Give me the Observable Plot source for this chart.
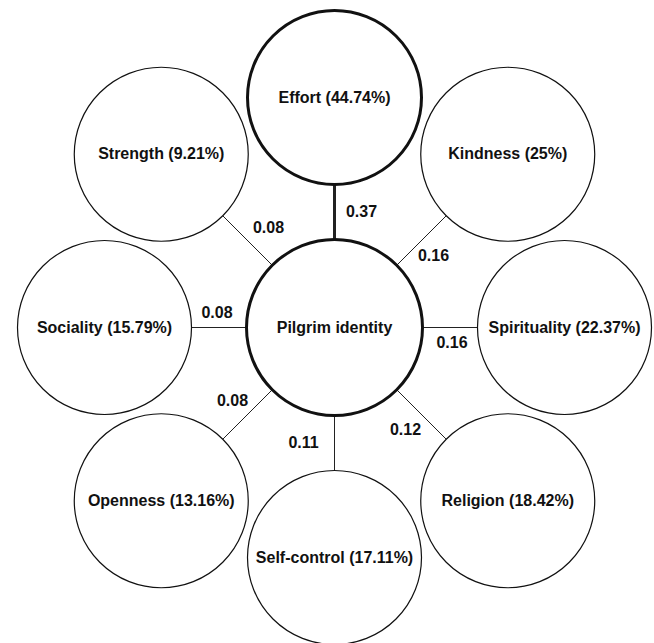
<!DOCTYPE html>
<html>
<head>
<meta charset="utf-8">
<script src="https://cdn.jsdelivr.net/npm/d3@7"></script>
<script src="https://cdn.jsdelivr.net/npm/@observablehq/plot@0.6"></script>
<style>
  html, body { margin: 0; padding: 0; background: #fff; }
  #chart { width: 654px; height: 643px; }
  svg text { font-family: "Liberation Sans", Arial, sans-serif; font-weight: bold; }
</style>
</head>
<body>
<div id="chart"></div>
<script>
// ---- data ----
const centerLabel = "Pilgrim identity";
const categories = ["Effort", "Kindness", "Spirituality", "Religion", "Self-control", "Openness", "Sociality", "Strength"];
const percents = [44.74, 25, 22.37, 18.42, 17.11, 13.16, 15.79, 9.21];
const weights = [0.37, 0.16, 0.16, 0.12, 0.11, 0.08, 0.08, 0.08];

// ---- layout (clockwise from top) ----
const orthDist = 230, diagDist = 245;
const centerR = 88, nodeR = 87;
// weight label offsets from link midpoint (px)
const labelOffsets = [[27, 0], [12, 15], [2, 15], [-16, 15], [-31, 0], [-15, -14], [-2, -15], [21, -13]];

const nodes = categories.map((c, i) => {
  const a = i * Math.PI / 4;
  const dist = i % 2 ? diagDist : orthDist;
  const ux = Math.sin(a), uy = -Math.cos(a);
  const mid = (centerR + dist - nodeR) / 2;
  return {
    name: c,
    label: `${c} (${percents[i]}%)`,
    weight: weights[i],
    x: dist * ux,
    y: dist * uy,
    lx: mid * ux + labelOffsets[i][0],
    ly: mid * uy + labelOffsets[i][1],
    wlabel: weights[i].toFixed(2)
  };
});
const thick = d => d.weight >= 0.3;

const chart = Plot.plot({
  width: 654,
  height: 643,
  margin: 0,
  x: {domain: [-334, 320], axis: null},
  y: {domain: [-327, 316], range: [0, 643], axis: null},
  marks: [
    Plot.link(nodes, {x1: 0, y1: 0, x2: "x", y2: "y", stroke: "#222", strokeWidth: d => thick(d) ? 3 : 1}),
    Plot.dot(nodes, {x: "x", y: "y", r: nodeR, fill: "white", stroke: "#111", strokeWidth: d => thick(d) ? 3 : 1.2}),
    Plot.dot([centerLabel], {x: 0, y: 0, r: centerR, fill: "white", stroke: "#111", strokeWidth: 3}),
    Plot.text(nodes, {x: "x", y: "y", text: "label", fontSize: 16, fontWeight: "bold", fill: "#111"}),
    Plot.text([centerLabel], {x: 0, y: 0, text: d => d, fontSize: 16, fontWeight: "bold", fill: "#111"}),
    Plot.text(nodes, {x: "lx", y: "ly", text: "wlabel", fontSize: 16, fontWeight: "bold", fill: "#111"})
  ]
});
document.getElementById("chart").appendChild(chart);
</script>
</body>
</html>
